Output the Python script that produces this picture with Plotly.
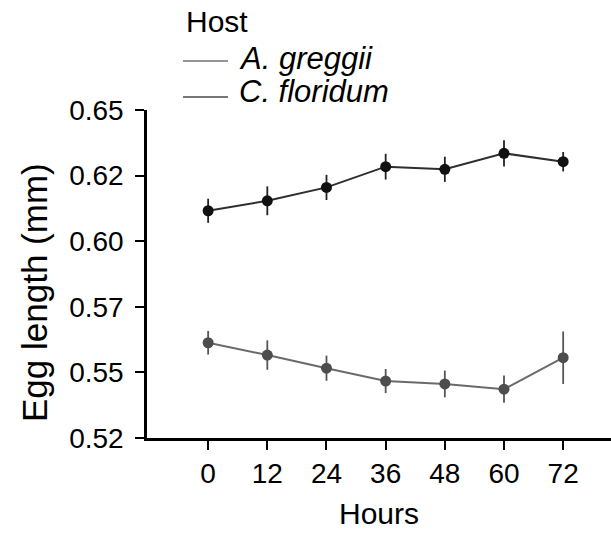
import plotly.graph_objects as go

# Sampling times (hours) and mean egg length (mm) with standard errors
hours = [0, 12, 24, 36, 48, 60, 72]
tick_vals_y = [0.525, 0.55, 0.575, 0.60, 0.625, 0.65]
tick_text_y = ["0.52", "0.55", "0.57", "0.60", "0.62", "0.65"]

floridum_mean = [0.6116, 0.6154, 0.6205, 0.6284, 0.6274, 0.6335, 0.6303]
floridum_se = [0.0046, 0.0055, 0.0048, 0.0049, 0.0048, 0.0050, 0.0037]

greggii_mean = [0.5613, 0.5566, 0.5516, 0.5467, 0.5456, 0.5436, 0.5556]
greggii_se = [0.0045, 0.0056, 0.0048, 0.0046, 0.0051, 0.0052, 0.0100]

host_names = ["<i>A. greggii</i>", "<i>C. floridum</i>"]
host_line_colors = ["#707070", "#4a4a4a"]

FONT = "Liberation Sans, Arial, Helvetica, sans-serif"

# plot-area geometry in pixels, used to place the hand-drawn legend
W, H = 611, 535
ML, MR, MT, MB = 147, 0, 110, 97
PW, PH = W - ML - MR, H - MT - MB


def px_to_paper(px, py):
    return (px - ML) / PW, (H - MB - py) / PH


fig = go.Figure()

# Data traces (markers + connecting lines + error bars)
fig.add_trace(go.Scatter(
    x=hours, y=greggii_mean, mode="lines+markers", showlegend=False,
    line=dict(color="#6a6a6a", width=2),
    marker=dict(color="#4d4d4d", size=11),
    error_y=dict(type="data", array=greggii_se, color="#555555", thickness=1.8, width=0),
))
fig.add_trace(go.Scatter(
    x=hours, y=floridum_mean, mode="lines+markers", showlegend=False,
    line=dict(color="#2e2e2e", width=2),
    marker=dict(color="#111111", size=11),
    error_y=dict(type="data", array=floridum_se, color="#222222", thickness=1.8, width=0),
))

# Legend: title, line samples and italic host names
shapes = []
annotations = []
hx, hy = px_to_paper(184, 21)
annotations.append(dict(text="Host", xref="paper", yref="paper", x=hx, y=hy,
                        xanchor="left", yanchor="middle", showarrow=False,
                        font=dict(size=30)))
for i, (name, col) in enumerate(zip(host_names, host_line_colors)):
    line_y = 61 + 36 * i
    x0, y0 = px_to_paper(183, line_y)
    x1, _ = px_to_paper(228, line_y)
    shapes.append(dict(type="line", xref="paper", yref="paper", x0=x0, x1=x1, y0=y0, y1=y0,
                       line=dict(color=col, width=1.5)))
    tx, ty = px_to_paper(237, 59 + 33 * i)
    annotations.append(dict(text=name, xref="paper", yref="paper", x=tx, y=ty,
                            xanchor="left", yanchor="middle", showarrow=False,
                            font=dict(size=31)))

# Rotated y-axis title
yt_x, yt_y = px_to_paper(34, 293)
annotations.append(dict(text="Egg length (mm)", textangle=-90, xref="paper", yref="paper",
                        x=yt_x, y=yt_y, xanchor="center", yanchor="middle",
                        showarrow=False, font=dict(size=35)))

fig.update_layout(
    width=W, height=H,
    margin=dict(l=ML, r=MR, t=MT, b=MB),
    paper_bgcolor="white", plot_bgcolor="white",
    font=dict(family=FONT, color="black", size=28),
    showlegend=False,
    xaxis=dict(
        range=[-12.4, 81.7], tickvals=hours, ticktext=[str(h) for h in hours],
        showgrid=False, zeroline=False, showline=True, linecolor="black", linewidth=2.5,
        ticks="outside", ticklen=9, tickwidth=2, tickcolor="black",
        tickfont=dict(size=28),
        title=dict(text="Hours", font=dict(size=30), standoff=15),
    ),
    yaxis=dict(
        range=[0.525, 0.65], tickvals=tick_vals_y, ticktext=tick_text_y,
        showgrid=False, zeroline=False, showline=True, linecolor="black", linewidth=2.5,
        ticks="outside", ticklen=9, tickwidth=2, tickcolor="black",
        tickfont=dict(size=28), ticklabelstandoff=6,
    ),
    shapes=shapes,
    annotations=annotations,
)

fig.write_html("out.html")
